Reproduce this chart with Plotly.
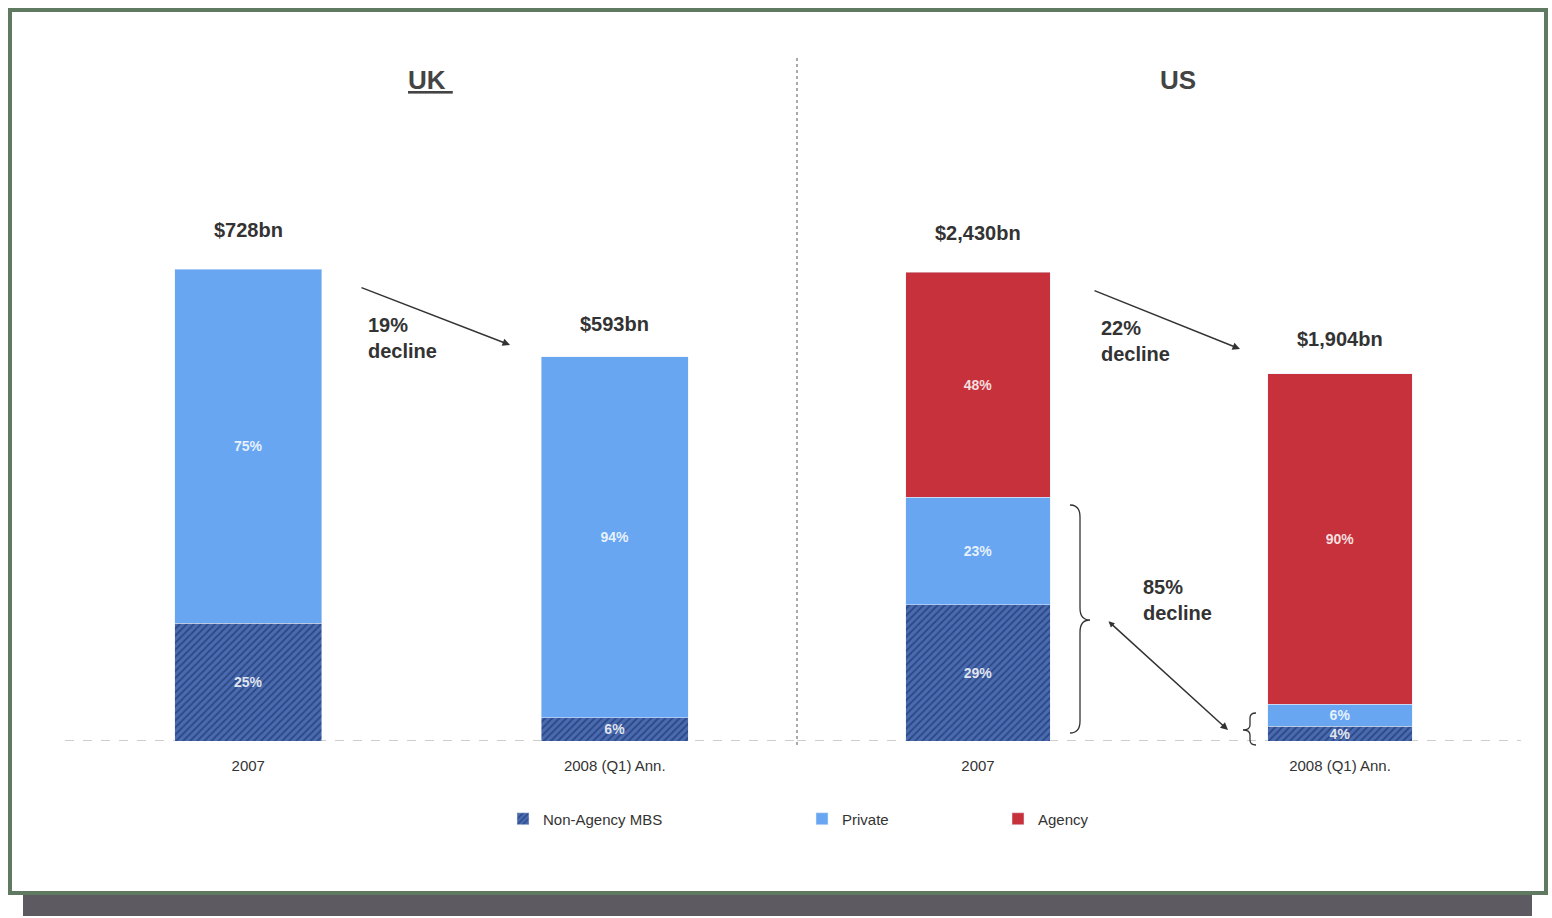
import plotly.graph_objects as go

# ---------------- data ----------------
categories = ["2007", "2008 (Q1) Ann."]
uk_totals = [728, 593]            # $bn
uk_nonagency_pct = [25, 6]
uk_private_pct = [75, 94]

us_totals = [2430, 1904]          # $bn
us_nonagency_pct = [29, 4]
us_private_pct = [23, 6]
us_agency_pct = [48, 90]

total_labels_uk = ["$728bn", "$593bn"]
total_labels_us = ["$2,430bn", "$1,904bn"]

# ---------------- styling ----------------
W, H = 1552, 918
FONT = "Liberation Sans, Arial, Helvetica, sans-serif"
C_NONAG = "#4a6bb0"
C_NONAG_FG = "#2c4785"
C_PRIV = "#68a6f2"
C_AGENCY = "#c7313b"
TXT = "#333333"
LABEL_SHIFT_UK = [26, 20]
LABEL_SHIFT_US = [26, 22]


def px(x):
    return x / W


def py(y):
    return 1 - y / H


def seg(totals, pcts):
    return [t * p / 100 for t, p in zip(totals, pcts)]


def pct_text(pcts):
    return [f"{p}%" for p in pcts]


BASE = 741
TOP = 60
dom_y = [py(BASE), py(TOP)]
uk_range = [0, uk_totals[0] * (BASE - TOP) / (BASE - 269)]
us_range = [0, us_totals[0] * (BASE - TOP) / (BASE - 272)]

fig = go.Figure()

nonag_marker = dict(color=C_NONAG,
                    pattern=dict(shape="/", fillmode="replace", bgcolor=C_NONAG,
                                 fgcolor=C_NONAG_FG, size=5, solidity=0.35))
textfont = dict(family=FONT, size=14, color="rgba(255,255,255,0.85)", weight="bold")
common = dict(width=0.4, textposition="inside", insidetextanchor="middle",
              textangle=0, textfont=textfont, hoverinfo="skip")

# UK
fig.add_trace(go.Bar(x=categories, y=seg(uk_totals, uk_nonagency_pct), text=pct_text(uk_nonagency_pct),
                     name="Non-Agency MBS", marker=nonag_marker, xaxis="x", yaxis="y",
                     legend="legend", showlegend=True, **common))
fig.add_trace(go.Bar(x=categories, y=seg(uk_totals, uk_private_pct), text=pct_text(uk_private_pct),
                     name="Private", marker=dict(color=C_PRIV), xaxis="x", yaxis="y",
                     legend="legend2", showlegend=True, **common))
# US
fig.add_trace(go.Bar(x=categories, y=seg(us_totals, us_nonagency_pct), text=pct_text(us_nonagency_pct),
                     name="Non-Agency MBS", marker=nonag_marker, xaxis="x2", yaxis="y2",
                     showlegend=False, **common))
fig.add_trace(go.Bar(x=categories, y=seg(us_totals, us_private_pct), text=pct_text(us_private_pct),
                     name="Private", marker=dict(color=C_PRIV), xaxis="x2", yaxis="y2",
                     showlegend=False, **common))
fig.add_trace(go.Bar(x=categories, y=seg(us_totals, us_agency_pct), text=pct_text(us_agency_pct),
                     name="Agency", marker=dict(color=C_AGENCY), xaxis="x2", yaxis="y2",
                     legend="legend3", showlegend=True, **common))

axis_x = dict(type="category", range=[-0.5, 1.5], showgrid=False, zeroline=False, showline=False,
              ticks="", ticklabelstandoff=14, tickfont=dict(family=FONT, size=15, color=TXT))
axis_y = dict(showgrid=False, zeroline=False, showline=False, showticklabels=False, ticks="",
              domain=dom_y)

annotations = []
# totals above bars (x as category index)
for i, (t, lab) in enumerate(zip(uk_totals, total_labels_uk)):
    annotations.append(dict(x=i, y=t, xref="x", yref="y", text=f"<b>{lab}</b>",
                            showarrow=False, xanchor="center", yanchor="bottom",
                            yshift=LABEL_SHIFT_UK[i],
                            font=dict(family=FONT, size=20, color=TXT)))
for i, (t, lab) in enumerate(zip(us_totals, total_labels_us)):
    annotations.append(dict(x=i, y=t, xref="x2", yref="y2", text=f"<b>{lab}</b>",
                            showarrow=False, xanchor="center", yanchor="bottom",
                            yshift=LABEL_SHIFT_US[i],
                            font=dict(family=FONT, size=20, color=TXT)))

# panel titles
annotations.append(dict(x=px(430), y=py(80), xref="paper", yref="paper", text="<b><u>UK </u></b>",
                        showarrow=False, xanchor="center", yanchor="middle",
                        font=dict(family=FONT, size=26, color="#444444")))
annotations.append(dict(x=px(1178), y=py(80), xref="paper", yref="paper", text="<b>US</b>",
                        showarrow=False, xanchor="center", yanchor="middle",
                        font=dict(family=FONT, size=26, color="#444444")))

# decline texts
for (xl, yc, txt) in [(366, 338, "19%"), (1099, 341, "22%"), (1141, 600, "85%")]:
    annotations.append(dict(x=px(xl), y=py(yc), xref="paper", yref="paper",
                            text=f"<b>{txt}<br>decline</b>", align="left", xanchor="left",
                            yanchor="middle", showarrow=False,
                            font=dict(family=FONT, size=20, color=TXT)))

# arrows
arrow_style = dict(xref="paper", yref="paper", text="", showarrow=True, arrowhead=2,
                   arrowsize=1, arrowwidth=1.5, arrowcolor="#333333", standoff=0)
annotations.append(dict(x=px(510), y=py(345), ax=-150, ay=-58, **arrow_style))
annotations.append(dict(x=px(1240), y=py(349), ax=-147, ay=-59, **arrow_style))
annotations.append(dict(x=px(1228), y=py(730), ax=-121, ay=-110, arrowside="end+start",
                        startarrowhead=2, startarrowsize=0.8, **arrow_style))


def brace_path(pts):
    out = []
    for cmd, coords in pts:
        s = " ".join(f"{px(x):.5f},{py(y):.5f}" for x, y in coords)
        out.append(f"{cmd} {s}")
    return " ".join(out)


big_brace = brace_path([
    ("M", [(1070, 505)]),
    ("Q", [(1080, 505), (1080, 517)]),
    ("L", [(1080, 608)]),
    ("Q", [(1080, 620), (1090, 620)]),
    ("Q", [(1080, 620), (1080, 632)]),
    ("L", [(1080, 721)]),
    ("Q", [(1080, 733), (1070, 733)]),
])
small_brace = brace_path([
    ("M", [(1256, 713)]),
    ("Q", [(1250, 713), (1250, 718)]),
    ("L", [(1250, 725)]),
    ("Q", [(1250, 730), (1243, 730)]),
    ("Q", [(1250, 730), (1250, 735)]),
    ("L", [(1250, 740)]),
    ("Q", [(1250, 745), (1256, 745)]),
])

shapes = [
    # shadow & frame
    dict(type="rect", xref="paper", yref="paper", x0=px(23), x1=px(1532), y0=py(916), y1=py(894),
         fillcolor="#5e5a62", line=dict(width=0), layer="below"),
    dict(type="rect", xref="paper", yref="paper", x0=px(10), x1=px(1546), y0=py(893), y1=py(10),
         fillcolor="#ffffff", line=dict(color="#5f7a60", width=4), layer="below"),
    # separator
    dict(type="line", xref="paper", yref="paper", x0=px(797), x1=px(797), y0=py(58), y1=py(746),
         line=dict(color="#555555", width=1, dash="dot")),
    # baselines
    dict(type="line", xref="x domain", yref="y", x0=0, x1=1, y0=0, y1=0,
         line=dict(color="#9a9a9a", width=1, dash="dash"), layer="below"),
    dict(type="line", xref="x2 domain", yref="y2", x0=0, x1=1, y0=0, y1=0,
         line=dict(color="#9a9a9a", width=1, dash="dash"), layer="below"),
    # braces
    dict(type="path", xref="paper", yref="paper", path=big_brace, line=dict(color="#333333", width=1.3)),
    dict(type="path", xref="paper", yref="paper", path=small_brace, line=dict(color="#333333", width=1.3)),
]

legend_common = dict(orientation="h", yanchor="middle", y=py(819), xanchor="left",
                     font=dict(family=FONT, size=15, color=TXT), bgcolor="rgba(0,0,0,0)")

fig.update_layout(
    width=W, height=H,
    margin=dict(l=0, r=0, t=0, b=0),
    paper_bgcolor="#ffffff", plot_bgcolor="rgba(0,0,0,0)",
    barmode="stack",
    font=dict(family=FONT, color=TXT),
    xaxis=dict(domain=[px(65), px(798)], anchor="y", **axis_x),
    xaxis2=dict(domain=[px(797), px(1521)], anchor="y2", **axis_x),
    yaxis=dict(anchor="x", range=uk_range, **axis_y),
    yaxis2=dict(anchor="x2", range=us_range, **axis_y),
    uniformtext=dict(minsize=14, mode="show"),
    legend=dict(x=px(503), **legend_common),
    legend2=dict(x=px(802), **legend_common),
    legend3=dict(x=px(998), **legend_common),
    annotations=annotations,
    shapes=shapes,
)

fig.write_html("out.html")
